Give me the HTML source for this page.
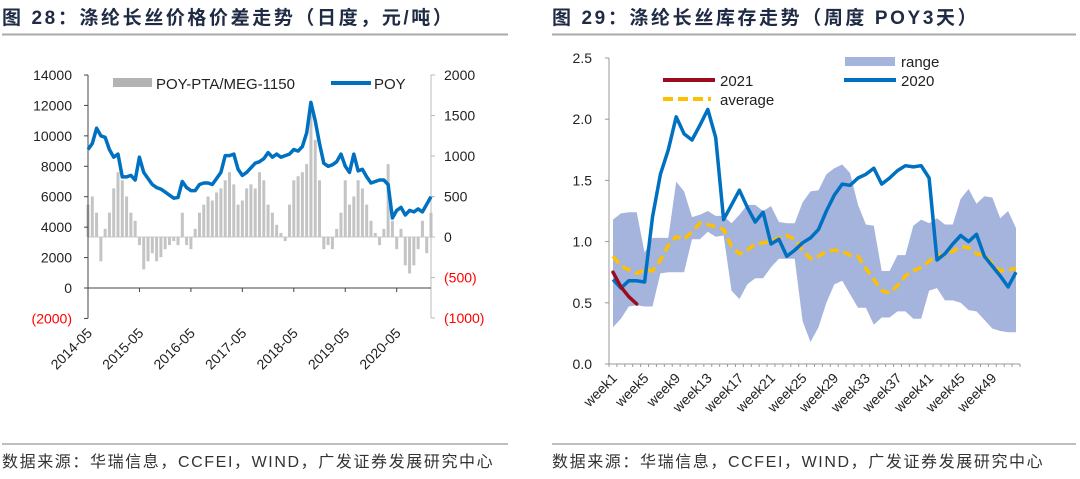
<!DOCTYPE html>
<html><head><meta charset="utf-8">
<style>
body{margin:0;background:#fff;width:1080px;height:474px;overflow:hidden;font-family:"Liberation Sans","Noto Sans CJK SC",sans-serif;}
svg text{font-family:"Liberation Sans","Noto Sans CJK SC",sans-serif;}
</style></head><body>
<svg id="svg" width="1080" height="474" viewBox="0 0 1080 474">
<text x="2" y="24" font-size="19" font-weight="bold" letter-spacing="2.6" fill="#1f2a44">图 28：涤纶长丝价格价差走势（日度，元/吨）</text>
<line x1="2" y1="34.5" x2="508" y2="34.5" stroke="#aaa" stroke-width="2"/>
<text x="552" y="24" font-size="19" font-weight="bold" letter-spacing="2.6" fill="#1f2a44">图 29：涤纶长丝库存走势（周度 POY3天）</text>
<line x1="552" y1="34.5" x2="1076" y2="34.5" stroke="#aaa" stroke-width="2"/>
<line x1="2" y1="444" x2="508" y2="444" stroke="#aaa" stroke-width="1.5"/>
<line x1="552" y1="444" x2="1076" y2="444" stroke="#aaa" stroke-width="1.5"/>
<text x="2" y="467" font-size="16" letter-spacing="1.6" fill="#333">数据来源：华瑞信息，CCFEI，WIND，广发证券发展研究中心</text>
<text x="552" y="467" font-size="16" letter-spacing="1.6" fill="#333">数据来源：华瑞信息，CCFEI，WIND，广发证券发展研究中心</text>
<g id="left"></g>
<g id="right"></g>
</svg>
<script>
// ---------- Left chart data ----------
const poyValues=[9100,9500,10500,10000,9900,9100,8600,8800,7300,7300,7400,7100,8600,7600,7200,6800,6600,6500,6300,6100,5900,5950,7000,6600,6400,6400,6800,6900,6900,6800,7200,7600,8700,8700,8800,7800,7400,7600,7900,8200,8300,8500,8900,8600,8800,8600,8700,8800,9100,9000,9300,10200,12200,11000,9500,8200,8000,8100,8300,8800,8000,7600,8800,7700,7800,7300,6900,7000,7100,7100,6800,4600,5100,5300,4800,5100,5000,5200,5000,5500,6000];
const spreadValues=[400,500,300,-300,100,300,600,800,700,500,300,200,-100,-400,-300,-200,-300,-250,-150,-100,-50,-100,300,-100,-150,100,300,400,500,450,550,600,700,800,650,400,450,600,650,600,800,700,400,300,150,50,-50,400,700,750,800,900,1600,1200,700,-150,-100,-150,100,300,700,400,500,700,600,400,200,50,-100,100,900,200,-150,100,-350,-450,-350,-150,200,-200,300];
const leftTicks=[-2000,0,2000,4000,6000,8000,10000,12000,14000];
const rightTicks=[-1000,-500,0,500,1000,1500,2000];
const dateLabels=["2014-05","2015-05","2016-05","2017-05","2018-05","2019-05","2020-05"];

// ---------- Right chart data ----------
const weeks=[];for(let i=1;i<=52;i++)weeks.push("week"+i);
const weekLabels=["week1","week5","week9","week13","week17","week21","week25","week29","week33","week37","week41","week45","week49"];
const yTicks=[0,0.5,1.0,1.5,2.0,2.5];
const s2020=[0.69,0.62,0.68,0.68,0.67,1.2,1.55,1.75,2.02,1.88,1.83,1.95,2.08,1.85,1.18,1.3,1.42,1.28,1.16,1.24,0.98,1.02,0.88,0.93,0.99,1.03,1.1,1.25,1.38,1.47,1.46,1.52,1.55,1.6,1.47,1.52,1.58,1.62,1.61,1.62,1.52,0.85,0.9,0.98,1.05,1.0,1.06,0.88,0.8,0.72,0.63,0.75];
const sAverage=[0.88,0.8,0.77,0.74,0.77,0.76,0.85,0.97,1.04,1.02,1.08,1.15,1.14,1.12,1.1,0.96,0.9,0.93,0.98,0.99,1.0,1.03,1.05,1.02,0.93,0.86,0.88,0.92,0.93,0.92,0.89,0.88,0.78,0.69,0.6,0.58,0.64,0.72,0.76,0.79,0.84,0.89,0.89,0.92,0.96,0.95,0.9,0.89,0.82,0.76,0.77,0.78];
const rangeHigh=[1.18,1.23,1.24,1.24,0.91,1.03,1.03,1.03,1.49,1.41,1.2,1.22,1.25,1.21,1.21,1.15,1.22,1.3,1.3,1.25,1.29,1.16,1.15,1.15,1.32,1.41,1.42,1.55,1.6,1.63,1.56,1.3,1.14,1.13,0.76,0.76,0.89,0.89,1.13,1.18,1.15,1.19,1.14,1.14,1.35,1.43,1.31,1.37,1.36,1.19,1.25,1.11];
const rangeLow=[0.3,0.37,0.47,0.48,0.47,0.47,0.74,0.75,0.75,0.75,1.02,1.02,1.08,1.04,1.05,0.6,0.53,0.65,0.7,0.7,0.79,0.86,0.86,0.86,0.35,0.18,0.3,0.5,0.65,0.68,0.57,0.46,0.46,0.32,0.38,0.38,0.43,0.43,0.37,0.37,0.6,0.62,0.52,0.52,0.5,0.44,0.43,0.36,0.29,0.27,0.26,0.26];
const s2021=[0.75,0.63,0.55,0.49];

const NS="http://www.w3.org/2000/svg";
function mk(parent,tag,attrs,text){const e=document.createElementNS(NS,tag);for(const k in attrs)e.setAttribute(k,attrs[k]);if(text!==undefined)e.textContent=text;parent.appendChild(e);return e;}

// ----- Left chart -----
(function(){
const g=document.getElementById('left');
const X0=88,X1=431;
const yL=v=>288-(v/2000)*30.43;
const yR=v=>237-(v/500)*40.5;
const n=poyValues.length;
const xM=i=>X0+i*(X1-X0)/(n-1);
const xYear=k=>X0+k*12*(X1-X0)/(n-1);
const bw=(X1-X0)/(n-1);
spreadValues.forEach((v,i)=>{
  const y=yR(v),y0=yR(0);
  const b=mk(g,'rect',{x:xM(i)-bw*0.35,y:Math.min(y,y0),width:bw*0.7,height:Math.abs(y0-y),fill:'#c4c4c4'});
  
  
});
const zl=mk(g,'line',{x1:X0,x2:X1,y1:yR(0),y2:yR(0),stroke:'#c8c8c8','stroke-width':1});


const la=mk(g,'line',{x1:X0,x2:X0,y1:yL(14000),y2:yL(-2000),stroke:'#444','stroke-width':1});


const ra=mk(g,'line',{x1:X1,x2:X1,y1:yR(2000),y2:yR(-1000),stroke:'#bbb','stroke-width':1});


const xa=mk(g,'line',{x1:X0,x2:X1,y1:yL(0),y2:yL(0),stroke:'#444','stroke-width':1});


leftTicks.forEach(v=>{
  mk(g,'line',{x1:X0-4,x2:X0,y1:yL(v),y2:yL(v),stroke:'#444'});
  const t=mk(g,'text',{x:72,y:yL(v)+5,'font-size':14,'text-anchor':'end',fill:v<0?'#ff0000':'#222'},v<0?'('+(-v)+')':String(v));
  
  
});
rightTicks.forEach(v=>{
  mk(g,'line',{x1:X1,x2:X1+4,y1:yR(v),y2:yR(v),stroke:'#bbb'});
  const t=mk(g,'text',{x:444,y:yR(v)+5,'font-size':14,fill:v<0?'#ff0000':'#222'},v<0?'('+(-v)+')':String(v));
  
  
});
dateLabels.forEach((d,k)=>{
  const x=xYear(k);
  mk(g,'line',{x1:x,x2:x,y1:yL(0),y2:yL(0)+4,stroke:'#444'});
  const t=mk(g,'text',{x:x+5,y:334,'font-size':14,'text-anchor':'end',fill:'#222',transform:`rotate(-45 ${x+5} 334)`},d);
  
  
});
const pts=poyValues.map((v,i)=>xM(i).toFixed(1)+','+yL(v).toFixed(1)).join(' ');
const pl=mk(g,'polyline',{points:pts,fill:'none',stroke:'#0070c0','stroke-width':3.5,'stroke-linejoin':'round'});


const l1=mk(g,'rect',{x:113,y:78,width:39,height:9,fill:'#b3b3b3'});


const l2=mk(g,'text',{x:156,y:89,'font-size':15,fill:'#222'},'POY-PTA/MEG-1150');


const l3=mk(g,'line',{x1:331,x2:371,y1:83,y2:83,stroke:'#0070c0','stroke-width':4});


const l4=mk(g,'text',{x:374,y:89,'font-size':15,fill:'#222'},'POY');


})();

// ----- Right chart -----
(function(){
const g=document.getElementById('right');
const AX=609,AR=1020;
const y=v=>364-v*122.4;
const step=(AR-AX)/52;
const x=i=>AX+step*(i+0.5);
let d='M'+rangeHigh.map((v,i)=>x(i).toFixed(1)+','+y(v).toFixed(1)).join(' L');
for(let i=rangeLow.length-1;i>=0;i--)d+=' L'+x(i).toFixed(1)+','+y(rangeLow[i]).toFixed(1);
d+='Z';
const ar=mk(g,'path',{d:d,fill:'#a4b4dc'});


const ya=mk(g,'line',{x1:AX,x2:AX,y1:y(2.5),y2:y(0),stroke:'#999'});


const xa=mk(g,'line',{x1:AX,x2:AR,y1:y(0),y2:y(0),stroke:'#999'});


yTicks.forEach(v=>{
  mk(g,'line',{x1:AX-4,x2:AX,y1:y(v),y2:y(v),stroke:'#999'});
  const t=mk(g,'text',{x:592,y:y(v)+5,'font-size':14,'text-anchor':'end',fill:'#222'},v.toFixed(1));
  
  
});
for(let i=0;i<=52;i++)mk(g,'line',{x1:AX+step*i,x2:AX+step*i,y1:y(0),y2:y(0)+3,stroke:'#999'});
weeks.forEach((w,i)=>{
  if(weekLabels.indexOf(w)<0)return;
  const cx=x(i)+5;
  const t=mk(g,'text',{x:cx,y:379,'font-size':14,'text-anchor':'end',fill:'#222',transform:`rotate(-45 ${cx} 379)`},w);
  
  
});
const line=(arr,attrs)=>mk(g,'polyline',Object.assign({points:arr.map((v,i)=>x(i).toFixed(1)+','+y(v).toFixed(1)).join(' '),fill:'none','stroke-linejoin':'round'},attrs));
const av=line(sAverage,{stroke:'#ffc000','stroke-width':3.5,'stroke-dasharray':'9 5'});


const b=line(s2020,{stroke:'#0070c0','stroke-width':3.5});


const r=line(s2021,{stroke:'#9b0d1e','stroke-width':3.5,'stroke-linecap':'round'});


const e1=mk(g,'rect',{x:845,y:57,width:50,height:9,fill:'#a4b4dc'});


const e2=mk(g,'text',{x:901,y:67,'font-size':15,fill:'#222'},'range');


const e3=mk(g,'line',{x1:844,x2:896,y1:80,y2:80,stroke:'#0070c0','stroke-width':4});


const e4=mk(g,'text',{x:901,y:86,'font-size':15,fill:'#222'},'2020');


const e5=mk(g,'line',{x1:663,x2:715,y1:80,y2:80,stroke:'#9b0d1e','stroke-width':4});


const e6=mk(g,'text',{x:720,y:86,'font-size':15,fill:'#222'},'2021');


const e7=mk(g,'line',{x1:663,x2:711,y1:99,y2:99,stroke:'#ffc000','stroke-width':4,'stroke-dasharray':'10 5'});


const e8=mk(g,'text',{x:720,y:105,'font-size':15,fill:'#222'},'average');


})();
</script>
</body></html>
